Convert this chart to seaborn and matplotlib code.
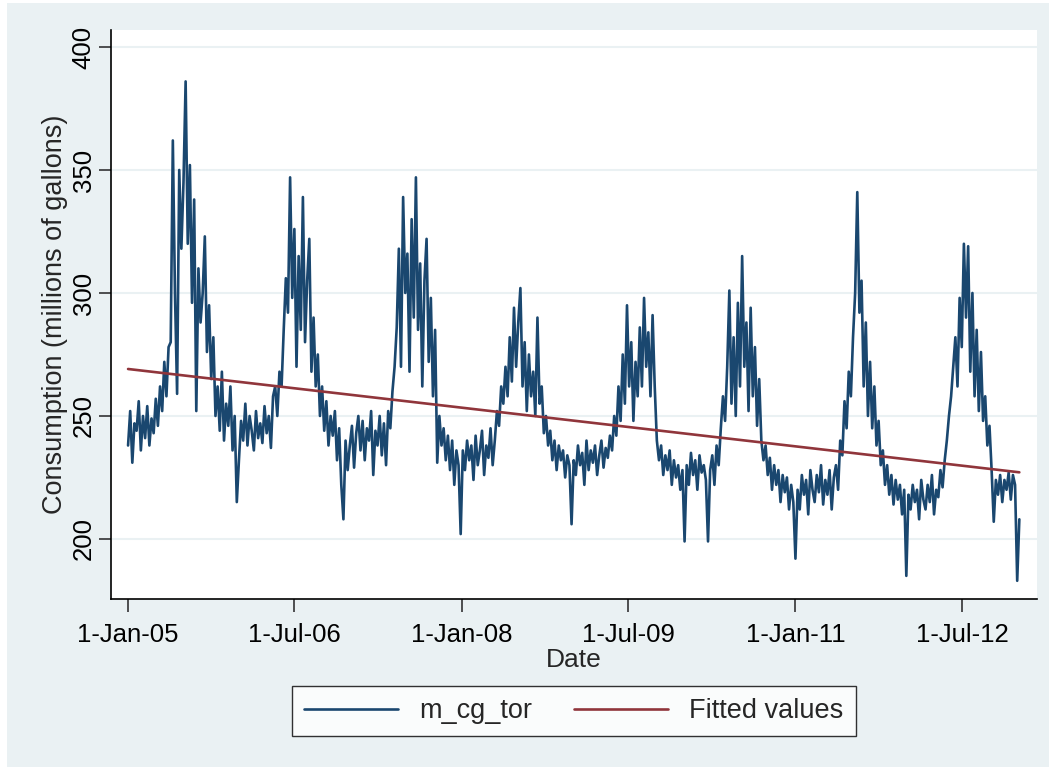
import numpy as np
import pandas as pd
import seaborn as sns
import matplotlib.pyplot as plt
import matplotlib.dates as mdates
from matplotlib.patches import Rectangle

# consumo semanal (millones de galones), desde 1-Jan-2005
inicio = "2005-01-01"

consumo_2005 = [238, 252, 231, 247, 244, 256, 236, 250, 241, 254, 238, 249, 243, 257, 246, 262, 252, 272, 258, 278,
                280, 362, 300, 259, 350, 318, 345, 386, 320, 352, 296, 338, 252, 310, 288, 300, 323, 276, 295, 265,
                282, 250, 262, 244, 268, 240, 255, 246, 262, 236, 250, 215]
consumo_2006 = [232, 248, 240, 255, 238, 250, 244, 236, 252, 241, 247, 239, 254, 243, 250, 237, 258,
                262, 250, 268, 262, 285, 306, 292, 347, 298, 326, 270, 315, 285, 339, 280, 305, 322, 268, 290,
                262, 275, 250, 262, 244, 256, 238, 250, 242, 252, 232, 245, 222, 208, 240, 228]
consumo_2007 = [238, 246, 229, 243, 250, 236, 248, 232, 245, 240, 252, 226, 244, 238, 250, 234, 247, 230,
                252, 245, 260, 270, 286, 318, 270, 339, 300, 316, 268, 330, 290, 347, 285, 312, 262, 305, 322,
                272, 298, 258, 285, 231, 250, 238, 245, 232, 242, 228, 240, 222, 236, 230]
consumo_2008 = [202, 236, 228, 240, 232, 238, 224, 242, 230, 236, 244, 226, 238, 233, 245, 230, 240,
                252, 246, 262, 255, 270, 258, 282, 264, 294, 270, 288, 302, 262, 280, 252, 275, 258, 268, 250,
                290, 255, 262, 243, 250, 238, 244, 232, 240, 228, 238, 232, 236, 225, 234, 230]
consumo_2009 = [206, 232, 226, 238, 230, 235, 222, 240, 228, 236, 231, 238, 226, 234, 240, 229, 237, 233,
                242, 236, 250, 242, 262, 248, 275, 255, 295, 262, 280, 248, 272, 258, 286, 262, 298, 270, 284,
                258, 291, 262, 240, 232, 238, 226, 234, 228, 236, 222, 232, 225, 230, 220]
consumo_2010 = [228, 199, 230, 222, 235, 226, 232, 220, 234, 227, 230, 224, 199,
                228, 234, 222, 238, 230, 245, 258, 248, 270, 301, 255, 282, 250, 296, 262, 315, 270, 288, 252,
                294, 258, 278, 246, 265, 240, 232, 238, 226, 233, 220, 230, 222, 228, 215, 226, 219, 225, 212, 222]
consumo_2011 = [215, 192, 220, 212, 226, 218, 224, 210, 228, 220, 215, 226, 219, 230, 214, 224, 218, 228, 212, 225,
                230, 220, 240, 234, 256, 245, 268, 258, 282, 300, 341, 292, 305, 262, 288, 250, 272, 245, 262, 238,
                248, 230, 236, 222, 230, 218, 226, 214, 224, 216, 222, 210]
consumo_2012 = [220, 185, 218, 212, 222, 215, 220, 208, 224, 216, 212, 222, 215, 226, 210, 220, 217, 228, 221,
                232, 240, 250, 258, 270, 282, 262, 298, 278, 320, 290, 319, 268, 300, 258, 285, 252, 276, 248,
                258, 238, 246, 228, 207, 224, 218, 226, 215, 224, 220, 227, 216, 226, 222, 183, 208]

fit_valores = [269.1, 227.1]

tick_fechas = ["2005-01-01", "2006-07-01", "2008-01-01", "2009-07-01", "2011-01-01", "2012-07-01"]
tick_etiquetas = ["1-Jan-05", "1-Jul-06", "1-Jan-08", "1-Jul-09", "1-Jan-11", "1-Jul-12"]
y_ticks = [200, 250, 300, 350, 400]

AZUL = "#1a476f"
ROJO = "#90353b"
FONDO = "#eaf1f3"


def main():
    valores = (consumo_2005 + consumo_2006 + consumo_2007 + consumo_2008
               + consumo_2009 + consumo_2010 + consumo_2011 + consumo_2012)
    fechas = pd.date_range(inicio, periods=len(valores), freq="7D")
    df = pd.DataFrame({"x": mdates.date2num(fechas), "m_cg_tor": valores})
    df_fit = pd.DataFrame({"x": [df["x"].iloc[0], df["x"].iloc[-1]], "fit": fit_valores})

    sns.set_style("white")
    plt.rcParams["font.family"] = ["Liberation Sans", "DejaVu Sans"]

    fig = plt.figure(figsize=(10.49, 7.67), dpi=100, facecolor="white")
    fig.patches.append(Rectangle((7 / 1049, 0), 1, 764 / 767, transform=fig.transFigure,
                                 facecolor=FONDO, edgecolor="none", zorder=-10))
    ax = fig.add_axes([111 / 1049, (767 - 599) / 767, (1037 - 111) / 1049, (599 - 30) / 767])
    ax.set_facecolor("white")

    sns.lineplot(x="x", y="m_cg_tor", data=df, ax=ax, color=AZUL, linewidth=1.9, label="m_cg_tor")
    sns.lineplot(x="x", y="fit", data=df_fit, ax=ax, color=ROJO, linewidth=1.9, label="Fitted values")

    ticks_x = mdates.date2num(pd.to_datetime(tick_fechas))
    ax.set_xticks(ticks_x)
    ax.set_xticklabels(tick_etiquetas)
    ax.set_xlim(ticks_x[0] - 56, ticks_x[-1] + 246)
    ax.set_yticks(y_ticks)
    ax.set_yticklabels([str(v) for v in y_ticks], rotation=90, va="center")
    ax.set_ylim(175.6, 406.9)

    ax.grid(axis="y", color=FONDO, linewidth=1.5)
    ax.set_axisbelow(True)
    for lado in ["top", "right"]:
        ax.spines[lado].set_visible(False)
    for lado in ["left", "bottom"]:
        ax.spines[lado].set_color("black")
        ax.spines[lado].set_linewidth(1.2)
    ax.tick_params(axis="both", direction="out", length=9, width=1.2, color="#333333",
                   labelsize=18.5, labelcolor="black", bottom=True, left=True)
    ax.tick_params(axis="x", pad=8)
    ax.tick_params(axis="y", pad=2)

    ax.set_xlabel("Date", fontsize=19, labelpad=1)
    ax.set_ylabel("Consumption (millions of gallons)", fontsize=19.5, labelpad=3)

    leg = ax.legend(loc="center", bbox_to_anchor=(0.5, -0.197), ncol=2, frameon=True,
                    fancybox=False, edgecolor="black", fontsize=19.5, handlelength=3.45,
                    handletextpad=0.8, columnspacing=1.55, borderpad=0.45)
    leg.get_frame().set_linewidth(1.0)
    for linea in leg.get_lines():
        linea.set_linewidth(1.9)

    plt.savefig("out.png", dpi=100, facecolor=fig.get_facecolor())


if __name__ == "__main__":
    main()
